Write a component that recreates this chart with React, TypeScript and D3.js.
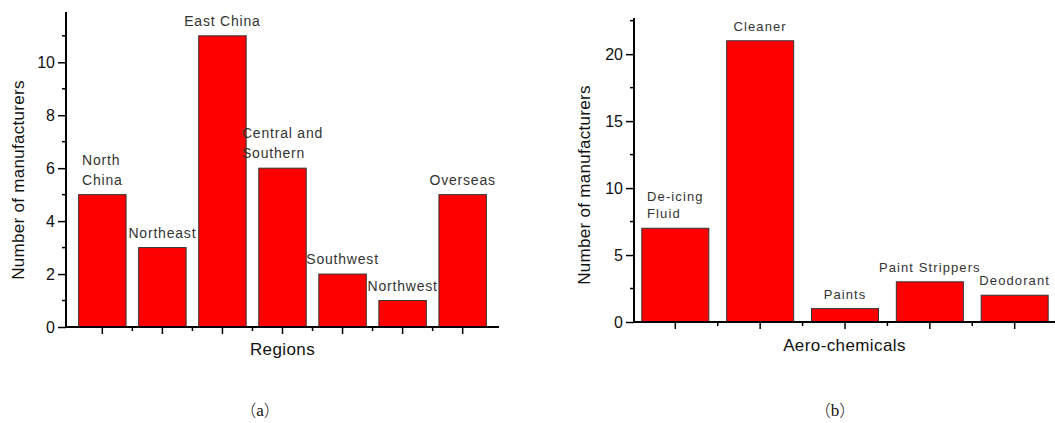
import React, { useEffect, useRef } from "react"
import * as d3 from "d3"

// panel (a)
const regions = ["North China", "Northeast", "East China", "Central and Southern", "Southwest", "Northwest", "Overseas"]
const regionLabels = [["North", "China"], ["Northeast"], ["East China"], ["Central and", "Southern"], ["Southwest"], ["Northwest"], ["Overseas"]]
const regionCounts = [5, 3, 11, 6, 2, 1, 5]
const regionTicks = [0, 2, 4, 6, 8, 10]

// panel (b)
const chemicals = ["De-icing Fluid", "Cleaner", "Paints", "Paint Strippers", "Deodorant"]
const chemicalLabels = [["De-icing", "Fluid"], ["Cleaner"], ["Paints"], ["Paint Strippers"], ["Deodorant"]]
const chemicalCounts = [7, 21, 1, 3, 2]
const chemicalTicks = [0, 5, 10, 15, 20]

const FONT = "'Liberation Sans', Arial, sans-serif"

function drawPanel(svg, opt) {
    const { cats, labels, values, ticks, yMax, left, right, bandStart, top, bottom,
        xTitle, xTitleY, yTitleX, yTitleY, labelSize, labelSpacing, lineH, caption, captionX } = opt

    const x = d3.scaleBand().domain(cats).range([bandStart, right]).padding(0.21)
    const y = d3.scaleLinear().domain([0, yMax]).range([bottom, top])
    const g = svg.append("g")

    // bars
    g.selectAll("rect.bar")
        .data(values)
        .enter()
        .append("rect")
        .attr("class", "bar")
        .attr("x", (d, i) => x(cats[i]))
        .attr("y", d => y(d))
        .attr("width", x.bandwidth())
        .attr("height", d => y(0) - y(d))
        .attr("fill", "#ff0000")
        .attr("stroke", "#333")
        .attr("stroke-width", 1)

    // bar labels, lines left aligned, block centred on the bar
    values.forEach((v, i) => {
        const lines = labels[i]
        const cx = x(cats[i]) + x.bandwidth() / 2
        const t = g.append("text")
            .style("font-family", FONT)
            .style("font-size", labelSize + "px")
            .style("letter-spacing", labelSpacing + "px")
            .attr("fill", "#333")
        let w = 0
        lines.forEach((ln, j) => {
            const sp = t.append("tspan")
                .attr("x", 0)
                .attr("y", y(v) - 10 - (lines.length - 1 - j) * lineH)
                .text(ln)
            w = Math.max(w, (sp.node() as SVGTSpanElement).getComputedTextLength())
        })
        t.selectAll("tspan").attr("x", cx - w / 2)
    })

    // y axis
    const step = ticks[1] - ticks[0]
    const minorY = d3.range(step / 2, yMax, step)
    const yAxis = d3.axisLeft(y).tickValues(ticks).tickSize(8).tickPadding(3)
    const ya = g.append("g").attr("transform", "translate(" + left + ",0)").call(yAxis)
    ya.select(".domain").attr("d", "M0," + top + "V" + bottom).attr("stroke", "#000").attr("stroke-width", 2)
    ya.selectAll(".tick line").attr("stroke", "#000").attr("stroke-width", 1.5)
    ya.selectAll(".tick text").style("font-family", FONT).style("font-size", "16px").attr("fill", "#111")
    g.selectAll("line.minory")
        .data(minorY)
        .enter()
        .append("line")
        .attr("x1", left - 4).attr("x2", left)
        .attr("y1", d => y(d)).attr("y2", d => y(d))
        .attr("stroke", "#000").attr("stroke-width", 1.5)

    // x axis
    g.append("line")
        .attr("x1", left - 1).attr("x2", right)
        .attr("y1", bottom).attr("y2", bottom)
        .attr("stroke", "#000").attr("stroke-width", 2)
    g.selectAll("line.majorx")
        .data(cats)
        .enter()
        .append("line")
        .attr("x1", d => x(d) + x.bandwidth() / 2).attr("x2", d => x(d) + x.bandwidth() / 2)
        .attr("y1", bottom).attr("y2", bottom + 7)
        .attr("stroke", "#000").attr("stroke-width", 1.5)
    g.selectAll("line.minorx")
        .data(cats.slice(1))
        .enter()
        .append("line")
        .attr("x1", d => x(d) - x.step() * x.paddingInner() / 2).attr("x2", d => x(d) - x.step() * x.paddingInner() / 2)
        .attr("y1", bottom).attr("y2", bottom + 4)
        .attr("stroke", "#000").attr("stroke-width", 1.5)

    // titles
    g.append("text")
        .attr("x", (left + Math.min(right, 1055)) / 2)
        .attr("y", xTitleY)
        .attr("text-anchor", "middle")
        .style("font-family", FONT)
        .style("font-size", "17px")
        .style("letter-spacing", "0.4px")
        .attr("fill", "#111")
        .text(xTitle)
    g.append("text")
        .attr("transform", "translate(" + yTitleX + "," + yTitleY + ") rotate(-90)")
        .attr("text-anchor", "middle")
        .style("font-family", FONT)
        .style("font-size", "17px")
        .style("letter-spacing", "0.3px")
        .attr("fill", "#111")
        .text("Number of manufacturers")

    // caption: full-width brackets round a serif letter
    const cap = g.append("text")
        .attr("x", captionX)
        .attr("y", 416)
        .attr("text-anchor", "middle")
        .style("font-size", "16px")
        .attr("fill", "#111")
    cap.append("tspan").style("font-family", "'Noto Sans CJK SC'").style("font-weight", 300).text("（")
    cap.append("tspan").style("font-family", "'Liberation Serif', serif").style("font-size", "17px").text(caption)
    cap.append("tspan").style("font-family", "'Noto Sans CJK SC'").style("font-weight", 300).text("）")
}

export default function App() {
    const ref = useRef(null)

    useEffect(() => {
        const svg = d3.select(ref.current)
        svg.selectAll("*").remove()

        drawPanel(svg, {
            cats: regions, labels: regionLabels, values: regionCounts, ticks: regionTicks, yMax: 11.9,
            left: 66, right: 499, bandStart: 66, top: 12, bottom: 327,
            xTitle: "Regions", xTitleY: 355, yTitleX: 24, yTitleY: 180,
            labelSize: 14, labelSpacing: 0.8, lineH: 20, caption: "a", captionX: 260
        })

        drawPanel(svg, {
            cats: chemicals, labels: chemicalLabels, values: chemicalCounts, ticks: chemicalTicks, yMax: 22.7,
            left: 634, right: 1066, bandStart: 624, top: 18, bottom: 322,
            xTitle: "Aero-chemicals", xTitleY: 351, yTitleX: 590, yTitleY: 185,
            labelSize: 13, labelSpacing: 1.1, lineH: 17, caption: "b", captionX: 835
        })
    }, [])

    return (
        <div style={{ position: "absolute", left: 0, top: 0, width: 1055, height: 423, overflow: "hidden" }}>
            <svg ref={ref} width={1055} height={423} style={{ display: "block", background: "#fff" }}></svg>
        </div>
    )
}
